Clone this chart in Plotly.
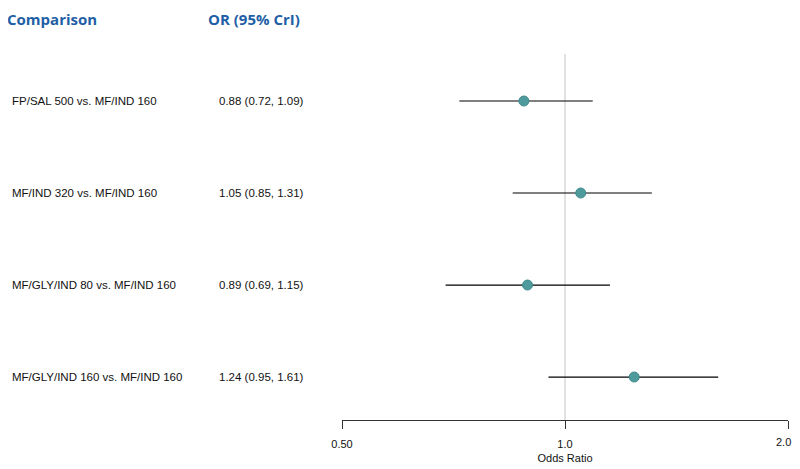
import plotly.graph_objects as go

# data
comparisons = [
    "FP/SAL 500 vs. MF/IND 160",
    "MF/IND 320 vs. MF/IND 160",
    "MF/GLY/IND 80 vs. MF/IND 160",
    "MF/GLY/IND 160 vs. MF/IND 160",
]
odds_ratio = [0.88, 1.05, 0.89, 1.24]
ci_low = [0.72, 0.85, 0.69, 0.95]
ci_high = [1.09, 1.31, 1.15, 1.61]
tick_vals = [0.5, 1.0, 2.0]
tick_text = ["0.50", "1.0", "2.0"]

rows = list(range(1, len(comparisons) + 1))

BLUE = "#1f5fa6"
TEAL = "#4f9a9c"
# the page body adds an 8px margin, so the figure is drawn 8px smaller
OFF = 8
W, H = 800 - OFF, 469 - OFF
X_LEFT, X_RIGHT = 342, 788  # axis ends in page pixels


def px(x):
    return (x - OFF) / W


def py(y):
    return 1 - (y - OFF) / H


fig = go.Figure()

fig.add_trace(go.Scatter(
    x=odds_ratio, y=rows, mode="markers",
    marker=dict(size=10, color=TEAL, line=dict(color="#3f8a8c", width=1)),
    error_x=dict(
        type="data", symmetric=False,
        array=[h - o for h, o in zip(ci_high, odds_ratio)],
        arrayminus=[o - l for o, l in zip(odds_ratio, ci_low)],
        width=0, thickness=1.2, color="#000000",
    ),
    showlegend=False, hoverinfo="skip",
))

# reference line at OR = 1
fig.add_shape(type="line", xref="x", yref="y", x0=1, x1=1, y0=0.489, y1=4.467,
              line=dict(color="#d9d9d9", width=1.5), layer="below")

# left text columns
txt_font = dict(family="Liberation Sans, Arial", size=11.5, color="#111111")
for r, name, o, l, h in zip(rows, comparisons, odds_ratio, ci_low, ci_high):
    fig.add_annotation(x=px(10), y=r, xref="paper", yref="y", text=name,
                       showarrow=False, xanchor="left", font=txt_font)
    fig.add_annotation(x=px(217), y=r, xref="paper", yref="y",
                       text=f"{o:.2f} ({l:.2f}, {h:.2f})",
                       showarrow=False, xanchor="left", font=txt_font)

for label, hx in [("Comparison", 6), ("OR (95% CrI)", 207)]:
    fig.add_annotation(x=px(hx), y=1, xref="paper", yref="paper", text=f"<b>{label}</b>",
                       showarrow=False, xanchor="left", yanchor="top", borderpad=0,
                       font=dict(family="Open Sans, Noto Sans", size=15, color=BLUE))

# last tick label sits at the right edge; nudge it inside the visible page
tick_font = dict(family="Liberation Sans, Arial", size=11, color="#111111")
fig.add_annotation(x=px(X_RIGHT), y=py(442), xref="paper", yref="paper", text=tick_text[-1],
                   showarrow=False, xanchor="center", yanchor="middle", xshift=-5,
                   font=tick_font)

fig.update_layout(
    width=W, height=H,
    margin=dict(l=0, r=0, t=0, b=0),
    paper_bgcolor="white", plot_bgcolor="white",
    xaxis=dict(
        type="log", range=[-0.30103, 0.30103],
        domain=[px(X_LEFT), px(X_RIGHT)],
        tickvals=tick_vals, ticktext=tick_text[:-1] + [""],
        ticks="outside", ticklen=8, tickwidth=1, tickcolor="#333333",
        showline=True, linecolor="#333333", linewidth=1,
        showgrid=False, zeroline=False, automargin=False,
        ticklabelstandoff=6,
        tickfont=tick_font,
        title=dict(text="Odds Ratio", standoff=5, font=tick_font),
    ),
    yaxis=dict(
        range=[4.467, 0.489], domain=[py(420), py(54)],
        visible=False, showgrid=False, zeroline=False, automargin=False,
    ),
)

fig.write_html("out.html")
